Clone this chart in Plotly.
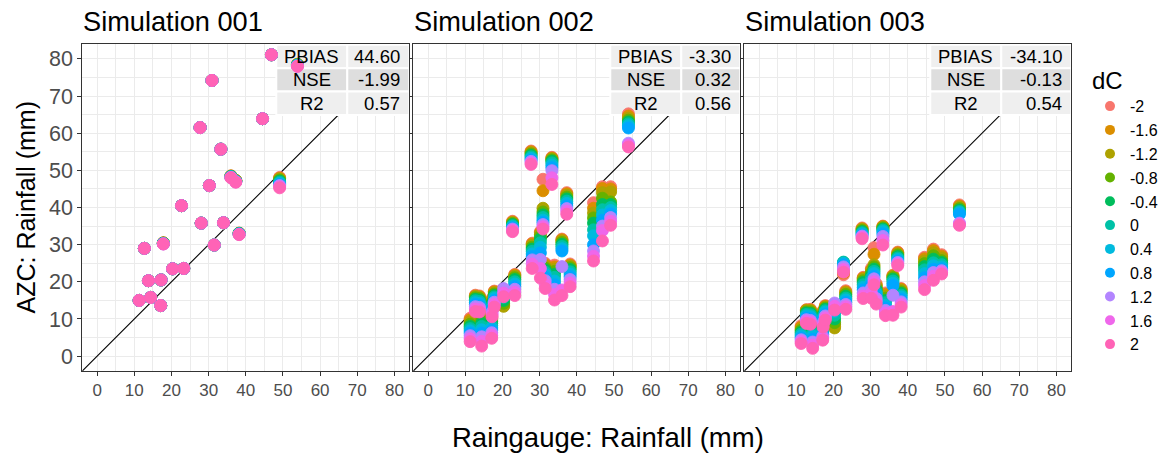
import plotly.graph_objects as go

# ---------------- data ----------------
EVENT_X = [11.3, 12.7, 13.8, 14.4, 17.1, 17.2, 17.8, 20.3, 22.7, 23.3, 27.7, 28.0,
           30.2, 30.9, 31.5, 33.3, 34.0, 36.0, 37.3, 38.2, 44.5, 46.9, 49.1, 53.9]

DC_LABELS = ["-2", "-1.6", "-1.2", "-0.8", "-0.4", "0", "0.4", "0.8", "1.2", "1.6", "2"]
DC_COLORS = ["#F8766D", "#DB8E00", "#AEA200", "#64B200", "#00BD5C", "#00C1A7",
             "#00BADE", "#00A6FF", "#B385FF", "#EF67EB", "#FF63B6"]

PANEL_TITLES = ["Simulation 001", "Simulation 002", "Simulation 003"]
STAT_NAMES = ["PBIAS", "NSE", "R2"]
STATS_001 = ["44.60", "-1.99", "0.57"]
STATS_002 = ["-3.30", "0.32", "0.56"]
STATS_003 = ["-34.10", "-0.13", "0.54"]

# one row per event (same order as EVENT_X), values for dC = -2 ... 2
SIM_001 = [
    [15.0, 15.0, 15.0, 15.0, 15.0, 15.0, 15.0, 15.0, 15.0, 15.0, 15.0],
    [29.0, 29.0, 29.0, 29.0, 29.0, 29.0, 29.0, 29.0, 29.0, 29.0, 29.0],
    [20.3, 20.3, 20.3, 20.3, 20.3, 20.3, 20.3, 20.3, 20.3, 20.3, 20.3],
    [15.8, 15.8, 15.8, 15.8, 15.8, 15.8, 15.8, 15.8, 15.8, 15.8, 15.8],
    [13.6, 13.6, 13.6, 13.6, 13.6, 13.6, 13.6, 13.6, 13.6, 13.6, 13.6],
    [20.5, 20.5, 20.5, 20.5, 20.5, 20.5, 20.5, 20.5, 20.5, 20.5, 20.5],
    [30.5, 30.5, 30.4, 30.4, 30.4, 30.3, 30.3, 30.3, 30.2, 30.2, 30.2],
    [23.5, 23.5, 23.5, 23.5, 23.5, 23.5, 23.5, 23.5, 23.5, 23.5, 23.5],
    [40.5, 40.5, 40.5, 40.5, 40.5, 40.5, 40.5, 40.5, 40.5, 40.5, 40.5],
    [23.6, 23.6, 23.6, 23.6, 23.6, 23.6, 23.6, 23.6, 23.6, 23.6, 23.6],
    [61.5, 61.5, 61.5, 61.5, 61.5, 61.5, 61.5, 61.5, 61.5, 61.5, 61.5],
    [35.8, 35.8, 35.8, 35.8, 35.8, 35.8, 35.8, 35.8, 35.8, 35.8, 35.8],
    [45.9, 45.9, 45.9, 45.9, 45.9, 45.9, 45.9, 45.9, 45.9, 45.9, 45.9],
    [74.2, 74.2, 74.2, 74.2, 74.2, 74.2, 74.2, 74.2, 74.2, 74.2, 74.2],
    [29.9, 29.9, 29.9, 29.9, 29.9, 29.9, 29.9, 29.9, 29.9, 29.9, 29.9],
    [55.7, 55.7, 55.7, 55.7, 55.7, 55.7, 55.7, 55.7, 55.7, 55.7, 55.7],
    [35.9, 35.9, 35.9, 35.9, 35.9, 35.9, 35.9, 35.9, 35.9, 35.9, 35.9],
    [48.5, 48.5, 48.4, 48.4, 48.3, 48.3, 48.2, 48.2, 48.1, 48.1, 48.0],
    [47.3, 47.3, 47.2, 47.2, 47.1, 47.1, 47.0, 47.0, 46.9, 46.9, 46.8],
    [33.1, 33.1, 33.0, 33.0, 33.0, 32.9, 32.9, 32.9, 32.8, 32.8, 32.7],
    [63.9, 63.9, 63.9, 63.9, 63.9, 63.9, 63.9, 63.9, 63.9, 63.9, 63.9],
    [81.1, 81.1, 81.1, 81.1, 81.1, 81.1, 81.1, 81.1, 81.1, 81.1, 81.1],
    [48.1, 47.9, 47.7, 47.4, 47.1, 46.8, 46.5, 46.2, 45.9, 45.6, 45.3],
    [78.6, 78.5, 78.5, 78.4, 78.4, 78.3, 78.3, 78.2, 78.1, 78.0, 78.0],
]

SIM_002 = [
    [10.2, 9.8, 9.2, 8.6, 8.0, 7.4, 6.8, 6.2, 5.5, 4.7, 3.9],
    [16.4, 16.2, 16.0, 15.7, 15.3, 14.9, 14.4, 13.9, 13.3, 12.7, 12.0],
    [16.2, 16.0, 15.8, 15.5, 15.1, 14.7, 14.2, 13.7, 13.1, 12.5, 11.9],
    [11.6, 11.0, 10.3, 9.6, 8.8, 8.0, 7.1, 6.2, 5.2, 4.0, 2.7],
    [10.8, 10.4, 9.9, 9.4, 8.8, 8.2, 7.6, 7.0, 6.3, 5.6, 4.8],
    [15.5, 15.2, 14.9, 14.5, 14.1, 13.6, 13.1, 12.5, 11.9, 11.3, 10.6],
    [17.5, 17.3, 17.0, 16.7, 16.3, 15.9, 15.5, 15.0, 14.5, 13.9, 13.2],
    [14.0, 13.6, 13.4, 14.2, 15.0, 15.8, 16.6, 17.4, 18.2, 17.0, 16.0],
    [36.3, 36.1, 35.9, 35.7, 35.4, 35.1, 34.8, 34.5, 34.2, 33.9, 33.5],
    [22.0, 21.8, 21.5, 21.1, 20.6, 20.0, 19.4, 18.7, 18.0, 17.2, 16.3],
    [55.2, 55.0, 54.7, 54.4, 54.0, 53.6, 53.2, 52.8, 52.4, 52.0, 51.6],
    [30.4, 30.2, 29.8, 29.3, 28.8, 28.2, 27.5, 26.8, 25.9, 24.8, 23.6],
    [33.5, 33.2, 32.8, 32.2, 31.5, 30.5, 29.3, 27.8, 26.0, 23.6, 21.0],
    [47.6, 44.5, 39.8, 38.8, 38.0, 37.3, 36.6, 36.0, 35.4, 34.8, 34.2],
    [25.0, 24.6, 24.2, 23.7, 23.2, 22.6, 22.0, 21.2, 20.3, 19.3, 18.2],
    [53.5, 53.3, 53.1, 52.8, 52.5, 52.0, 51.4, 50.7, 49.9, 48.0, 46.2],
    [24.5, 24.0, 23.4, 22.8, 22.0, 21.2, 20.2, 19.2, 18.0, 16.6, 15.1],
    [31.5, 31.3, 31.0, 30.6, 30.1, 29.5, 28.9, 28.3, 24.1, 17.8, 16.3],
    [44.0, 43.7, 43.3, 42.8, 42.3, 41.7, 41.1, 40.4, 39.7, 39.0, 38.2],
    [24.8, 24.5, 24.2, 23.8, 23.3, 22.7, 22.1, 21.4, 20.6, 19.7, 18.7],
    [41.3, 39.8, 38.5, 37.2, 35.8, 34.0, 32.4, 30.0, 28.3, 26.9, 25.6],
    [45.6, 45.1, 44.0, 42.5, 40.8, 39.4, 38.0, 36.6, 35.0, 33.8, 31.0],
    [45.6, 45.0, 44.2, 41.5, 40.8, 40.0, 39.2, 38.3, 37.3, 36.3, 35.2],
    [65.2, 64.6, 64.0, 63.5, 63.0, 62.5, 62.0, 61.4, 57.3, 56.8, 56.3],
]

SIM_003 = [
    [8.2, 7.8, 7.3, 6.9, 6.4, 5.9, 5.4, 4.9, 4.4, 3.9, 3.4],
    [12.5, 12.4, 12.2, 11.9, 11.6, 11.2, 10.8, 10.3, 9.8, 9.3, 8.8],
    [12.6, 12.4, 12.2, 11.9, 11.5, 11.1, 10.6, 10.1, 9.6, 9.1, 8.6],
    [9.2, 8.7, 8.1, 7.5, 6.8, 6.1, 5.4, 4.6, 3.8, 3.0, 2.1],
    [8.8, 8.5, 8.1, 7.7, 7.3, 6.8, 6.3, 5.8, 5.3, 4.8, 4.3],
    [12.2, 12.0, 11.7, 11.4, 11.0, 10.6, 10.1, 9.6, 9.0, 8.4, 7.8],
    [13.6, 13.4, 13.2, 12.9, 12.6, 12.2, 11.8, 11.3, 10.8, 10.3, 9.7],
    [8.6, 8.0, 7.6, 9.0, 10.0, 11.0, 12.0, 13.2, 14.3, 13.4, 12.4],
    [21.9, 22.4, 23.2, 24.8, 25.2, 25.3, 25.0, 24.6, 24.0, 23.3, 22.6],
    [17.6, 17.3, 17.0, 16.6, 16.1, 15.6, 15.1, 14.5, 13.9, 13.3, 12.6],
    [34.5, 34.3, 34.1, 33.8, 33.5, 33.2, 32.9, 32.6, 32.3, 32.0, 31.6],
    [21.2, 21.0, 20.7, 20.3, 19.8, 19.2, 18.5, 17.8, 17.0, 16.2, 15.5],
    [23.6, 23.2, 22.8, 22.3, 21.7, 21.0, 20.2, 19.3, 18.2, 17.0, 15.6],
    [29.2, 27.4, 24.6, 24.0, 23.4, 22.8, 22.2, 21.5, 20.8, 20.0, 19.2],
    [19.5, 19.1, 18.7, 18.3, 17.8, 17.3, 16.8, 16.2, 15.5, 14.8, 14.0],
    [35.0, 34.9, 34.7, 34.5, 34.2, 33.9, 33.5, 32.9, 32.2, 31.1, 29.9],
    [17.0, 16.6, 16.1, 15.6, 15.0, 14.4, 13.7, 13.0, 12.3, 11.6, 10.9],
    [21.8, 21.6, 21.4, 21.1, 20.7, 20.2, 19.6, 19.0, 16.4, 12.0, 11.0],
    [28.0, 27.8, 27.5, 27.2, 26.8, 26.4, 26.0, 25.6, 25.2, 24.8, 24.4],
    [18.2, 18.0, 17.7, 17.3, 16.9, 16.4, 15.9, 15.3, 14.6, 13.9, 13.2],
    [26.6, 26.2, 25.6, 24.9, 24.1, 23.2, 22.2, 21.1, 20.0, 19.0, 17.9],
    [28.8, 28.4, 27.8, 27.0, 26.1, 25.1, 24.3, 23.4, 22.5, 21.5, 20.4],
    [27.3, 26.9, 26.4, 25.7, 25.2, 24.6, 24.0, 23.5, 23.0, 22.6, 22.1],
    [40.7, 40.4, 40.1, 39.7, 39.3, 38.9, 38.6, 38.2, 35.8, 35.5, 35.2],
]

TICKS = [0, 10, 20, 30, 40, 50, 60, 70, 80]

# ---------------- layout constants (pixels) ----------------
W, H = 1168, 455
PANEL_LEFT = [82.3, 413.3, 744.3]
PANEL_W = 327.0
PANEL_TOP, PANEL_BOTTOM = 44.0, 371.0
AX_RANGE = [-4, 84]
FONT = "Liberation Sans, Arial, Helvetica, sans-serif"

LABEL_COL_W = 71.0
VALUE_COL_W = [62.0, 59.0, 70.0]
ROW_H = 23.4


def fx(px):
    return px / W


def fy(py):
    return 1 - py / H


def px_to_data_x(px, x0):
    return AX_RANGE[0] + (px - x0) / PANEL_W * (AX_RANGE[1] - AX_RANGE[0])


def py_to_data_y(py):
    return AX_RANGE[0] + (PANEL_BOTTOM - py) / PANEL_W * (AX_RANGE[1] - AX_RANGE[0])


sims = [SIM_001, SIM_002, SIM_003]
stats = [STATS_001, STATS_002, STATS_003]

fig = go.Figure()

# legend-only traces
for k, lab in enumerate(DC_LABELS):
    fig.add_trace(go.Scatter(x=[None], y=[None], mode="markers", name=lab,
                             legendgroup=lab, showlegend=True,
                             marker=dict(color=DC_COLORS[k], size=10),
                             xaxis="x", yaxis="y"))

for i, sim in enumerate(sims):
    sfx = "" if i == 0 else str(i + 1)
    for k, lab in enumerate(DC_LABELS):
        fig.add_trace(go.Scatter(
            x=EVENT_X, y=[row[k] for row in sim], mode="markers", name=lab,
            legendgroup=lab, showlegend=False,
            marker=dict(color=DC_COLORS[k], size=12,
                        line=dict(width=0.9, color=DC_COLORS[k])),
            xaxis="x" + sfx, yaxis="y" + sfx))

layout = dict(
    width=W, height=H,
    margin=dict(l=0, r=0, t=0, b=0),
    paper_bgcolor="white", plot_bgcolor="white",
    font=dict(family=FONT, color="black"),
    showlegend=True,
    legend=dict(x=fx(1090), y=fy(58), xanchor="left", yanchor="top",
                title=dict(text="dC", font=dict(size=24, color="black")),
                font=dict(size=16, color="black"),
                tracegroupgap=0, itemwidth=30, bgcolor="rgba(0,0,0,0)"),
)

shapes = []
annotations = []
for i in range(3):
    sfx = "" if i == 0 else str(i + 1)
    x0 = PANEL_LEFT[i]
    ax_common = dict(range=AX_RANGE, tickmode="array", tickvals=TICKS,
                     showgrid=True, gridcolor="#EBEBEB", gridwidth=1.1,
                     minor=dict(tickvals=[5, 15, 25, 35, 45, 55, 65, 75],
                                showgrid=True, gridcolor="#EBEBEB", gridwidth=0.55,
                                ticks=""),
                     zeroline=False, showline=True, mirror=True,
                     linecolor="#333333", linewidth=1.1,
                     ticks="outside", ticklen=4, tickwidth=1.1, tickcolor="#333333",
                     fixedrange=True)
    layout["xaxis" + sfx] = dict(ax_common, domain=[fx(x0), fx(x0 + PANEL_W)],
                                 anchor="y" + sfx,
                                 tickfont=dict(size=17, color="#4D4D4D"))
    yax = dict(ax_common, domain=[fy(PANEL_BOTTOM), fy(PANEL_TOP)], anchor="x" + sfx,
               tickfont=dict(size=21.5, color="#4D4D4D"))
    if i > 0:
        yax.update(showticklabels=False, matches="y", ticklen=3.5)
    layout["yaxis" + sfx] = yax

    # 1:1 line (under table, under points)
    shapes.append(dict(type="line", xref="x" + sfx, yref="y" + sfx,
                       x0=AX_RANGE[0], y0=AX_RANGE[0], x1=AX_RANGE[1], y1=AX_RANGE[1],
                       line=dict(color="black", width=1.1), layer="between"))

    # statistics table in top-right corner
    right = x0 + PANEL_W
    vw = VALUE_COL_W[i]
    col_edges = [right - vw - LABEL_COL_W, right - vw, right]
    for r in range(3):
        top = PANEL_TOP + 0.8 + r * ROW_H
        fill = "#DEDEDE" if r == 1 else "#EFEFEF"
        for c in range(2):
            shapes.append(dict(
                type="rect", xref="x" + sfx, yref="y" + sfx,
                x0=px_to_data_x(col_edges[c], x0), x1=px_to_data_x(col_edges[c + 1], x0),
                y0=py_to_data_y(top + ROW_H), y1=py_to_data_y(top),
                fillcolor=fill, line=dict(color="white", width=2), layer="between"))
        yc = top + ROW_H / 2
        annotations.append(dict(x=fx((col_edges[0] + col_edges[1]) / 2), y=fy(yc),
                                xref="paper", yref="paper", text=STAT_NAMES[r],
                                showarrow=False, xanchor="center", yanchor="middle",
                                font=dict(size=18.5, color="black")))
        annotations.append(dict(x=fx(right - 7), y=fy(yc), xref="paper", yref="paper",
                                text=stats[i][r], showarrow=False, xanchor="right",
                                yanchor="middle", font=dict(size=18.5, color="black")))

    # panel title
    annotations.append(dict(x=fx(x0 - 1), y=fy(21.5), xref="paper", yref="paper",
                            text=PANEL_TITLES[i], showarrow=False, xanchor="left",
                            yanchor="middle", font=dict(size=27.2, color="black")))

# axis titles
annotations.append(dict(x=fx(608), y=fy(437), xref="paper", yref="paper",
                        text="Raingauge: Rainfall (mm)", showarrow=False,
                        xanchor="center", yanchor="middle",
                        font=dict(size=27.5, color="black")))
annotations.append(dict(x=fx(26), y=fy(207.5), xref="paper", yref="paper",
                        text="AZC: Rainfall (mm)", showarrow=False, textangle=-90,
                        xanchor="center", yanchor="middle",
                        font=dict(size=25, color="black")))

layout["shapes"] = shapes
layout["annotations"] = annotations
fig.update_layout(**layout)

fig.write_html("out.html",
               config={"displayModeBar": False},
               post_script="document.body.style.margin='0px';"
                           "document.body.style.overflow='hidden';")
